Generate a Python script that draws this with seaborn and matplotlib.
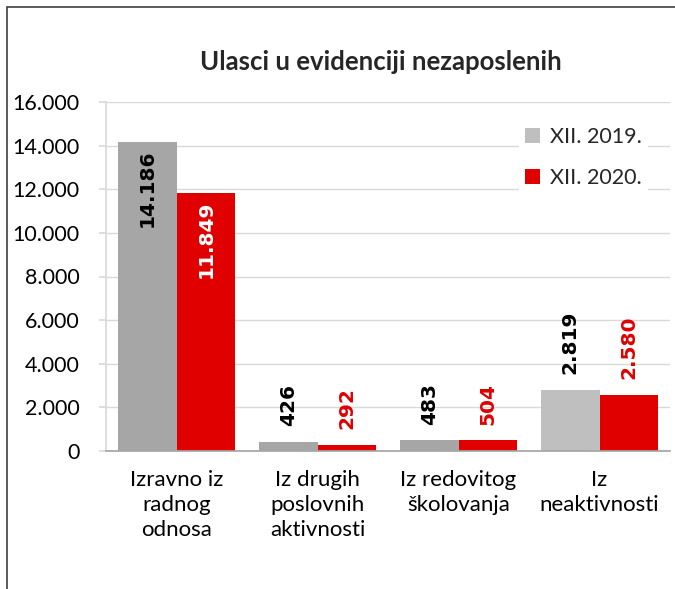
import matplotlib
matplotlib.use("Agg")
import matplotlib.pyplot as plt
import seaborn as sns
import pandas as pd
from matplotlib.patches import Rectangle, Patch
from matplotlib.ticker import FuncFormatter

categories = ["Izravno iz\nradnog\nodnosa", "Iz drugih\nposlovnih\naktivnosti",
              "Iz redovitog\nškolovanja", "Iz\nneaktivnosti"]
series = ["XII. 2019.", "XII. 2020."]
values_2019 = [14186, 426, 483, 2819]
values_2020 = [11849, 292, 504, 2580]
labels_2019 = ["14.186", "426", "483", "2.819"]
labels_2020 = ["11.849", "292", "504", "2.580"]
yticks = [0, 2000, 4000, 6000, 8000, 10000, 12000, 14000, 16000]

df = pd.DataFrame({
    "cat": categories * 2,
    "series": [series[0]] * 4 + [series[1]] * 4,
    "value": values_2019 + values_2020,
})

sns.set_theme(style="white")
plt.rcParams["font.family"] = ["Lato", "DejaVu Sans"]

fig = plt.figure(figsize=(6.75, 5.89), dpi=100)
ax = fig.add_axes([106/675, 1-451/589, (670-106)/675, (451-102)/589])

palette = {series[0]: "#BFBFBF", series[1]: "#E00000"}
sns.barplot(data=df, x="cat", y="value", hue="series", palette=palette,
            width=0.83, gap=0, ax=ax, saturation=1, legend=False,
            linewidth=0, errorbar=None)

gray_colors = ["#A6A6A6", "#A6A6A6", "#A6A6A6", "#BFBFBF"]
bars19 = ax.containers[0]
bars20 = ax.containers[1]
for p, c in zip(bars19.patches, gray_colors):
    p.set_facecolor(c)

ax.set_ylim(0, 16000)
ax.set_yticks(yticks)
ax.yaxis.set_major_formatter(FuncFormatter(lambda v, _: f"{int(v):,}".replace(",", ".")))
ax.grid(axis="y", color="#D9D9D9", linewidth=1)
ax.set_axisbelow(True)
ax.set_xlabel("")
ax.set_ylabel("")
ax.set_xlim(-0.5, 3.5)
for s in ["top", "right"]:
    ax.spines[s].set_visible(False)
ax.spines["left"].set_color("#D9D9D9")
ax.spines["bottom"].set_color("#A6A6A6")
ax.tick_params(axis="y", labelsize=15.5, length=5, color="#D9D9D9", pad=14, left=True)
ax.tick_params(axis="x", labelsize=16, length=0, pad=14)
for t in ax.get_xticklabels():
    t.set_linespacing(1.3)
    t.set_color("black")
for t in ax.get_yticklabels():
    t.set_color("black")

lab_font = dict(family="DejaVu Sans", fontweight="bold", fontsize=14.5, rotation=90, ha="center")
for i, (p, lab) in enumerate(zip(bars19.patches, labels_2019)):
    x = p.get_x() + p.get_width() / 2
    h = p.get_height()
    if i == 0:
        ax.annotate(lab, (x, h), xytext=(0, -6), textcoords="offset points", va="top",
                    color="black", **lab_font)
    else:
        ax.annotate(lab, (x, h), xytext=(0, 11), textcoords="offset points", va="bottom",
                    color="black", **lab_font)
for i, (p, lab) in enumerate(zip(bars20.patches, labels_2020)):
    x = p.get_x() + p.get_width() / 2
    h = p.get_height()
    if i == 0:
        ax.annotate(lab, (x, h), xytext=(0, -6), textcoords="offset points", va="top",
                    color="white", **lab_font)
    else:
        ax.annotate(lab, (x, h), xytext=(0, 11), textcoords="offset points", va="bottom",
                    color="#E00000", **lab_font)

handles = [Patch(facecolor="#BFBFBF", edgecolor="none"), Patch(facecolor="#E00000", edgecolor="none")]
leg = ax.legend(handles, series, loc="upper left", bbox_to_anchor=(508/675, 1-110/589),
                bbox_transform=fig.transFigure, fontsize=15.5, frameon=True,
                handlelength=0.7, handleheight=0.7, handletextpad=0.45, labelspacing=0.95,
                borderpad=0.3, fancybox=False)
leg.get_frame().set_facecolor("white")
leg.get_frame().set_edgecolor("none")
leg.get_frame().set_alpha(1)

fig.text(381/675, 1-62/589, "Ulasci u evidenciji nezaposlenih", ha="center", va="center",
         fontsize=18.5, fontweight="bold")

fig.patches.append(Rectangle((7/675, -0.1), 1.2, 1 - 7/589 + 0.1, transform=fig.transFigure,
                             fill=False, edgecolor="#404040", linewidth=1.2))

fig.savefig("out.png", dpi=100)
